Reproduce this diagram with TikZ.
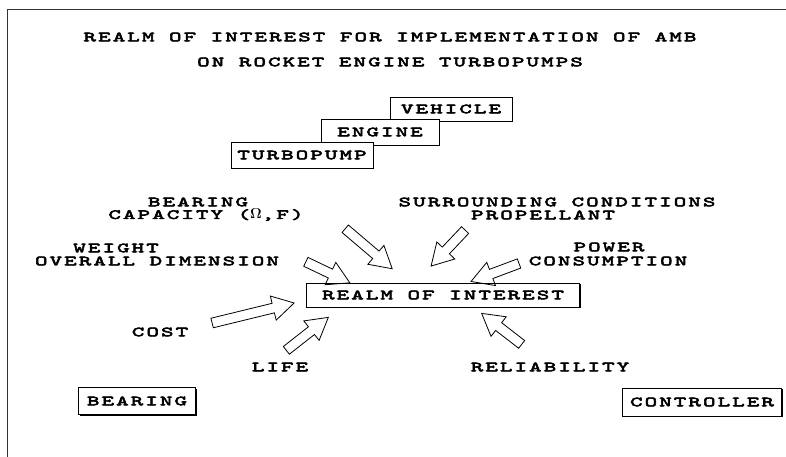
\documentclass[tikz,border=0pt]{standalone}
\usepackage[no-math]{fontspec}
\usepackage{tikz}
\usetikzlibrary{shapes.arrows}
\usetikzlibrary{shadows}
\usetikzlibrary{calc}
\newfontfamily\daisy[Extension=.otf,FakeStretch=1.7,LetterSpace=15,AutoFakeBold=4]{lmmono10-regular}
\tikzset{every node/.style={font=\daisy\bfseries\fontsize{14}{12}\selectfont, inner sep=1pt},
 labelbox/.style={draw, fill=white, line width=0.8pt, inner sep=0pt,
   general shadow={fill=black, shadow xshift=1.3pt, shadow yshift=-1.3pt}},
 bigarrow/.style={single arrow, draw, line width=0.8pt, inner sep=4.5pt,
   single arrow head extend=7.5pt, single arrow tip angle=60,
   sloped, allow upside down},
 }

\begin{document}
\begin{tikzpicture}[x=1pt,y=-1pt]
        \useasboundingbox (0,0) rectangle (786,457);
        \draw[line width=0.8pt, black!80] (786,9) -- (7,9) -- (7,457);
        \node (title1) at (390,37) {REALM OF INTEREST FOR IMPLEMENTATION OF AMB};
        \node (title2) at (390,62) {ON ROCKET ENGINE TURBOPUMPS};
        \node[labelbox, minimum width=122pt, minimum height=24pt] (vehicle) at (451,109) {VEHICLE};
        \node[labelbox, minimum width=118pt, minimum height=26pt] (engine) at (380,132) {ENGINE};
        \node[labelbox, minimum width=142pt, minimum height=26pt] (turbopump) at (302,155) {TURBOPUMP};
        \node (bearing1) at (198,202) {BEARING};
        \node (bearing2) at (206,215) {CAPACITY ($\mathbf{\Omega}$,F)};
        \node (surround1) at (557,202) {SURROUNDING CONDITIONS};
        \node (surround2) at (543,215) {PROPELLANT};
        \node (weight1) at (116,248) {WEIGHT};
        \node (weight2) at (157,261) {OVERALL DIMENSION};
        \node (power1) at (609,247) {POWER};
        \node (power2) at (608,261) {CONSUMPTION};
        \node[labelbox, minimum width=273pt, minimum height=24pt] (realm) at (443,295) {REALM OF INTEREST};
        \node (cost) at (160,332) {COST};
        \node (life) at (280,367) {LIFE};
        \node (reliab) at (550,367) {RELIABILITY};
        \node[labelbox, minimum width=117pt, minimum height=27pt] (bearing) at (137,401) {BEARING};
        \node[labelbox, minimum width=159pt, minimum height=28pt] (controller) at (702,402) {CONTROLLER};
        \foreach \tx/\ty/\px/\py[count=\i] in {342/226/389/266, 302/260/346/281, 468/227/434/263,
            523/262/475/280, 208/324/290/304, 283/353/325/320, 525/347/485/316} {
            \coordinate (tail\i) at (\tx,\ty);
            \coordinate (tip\i) at (\px,\py);
            \path let \p1 = ($(tip\i)-(tail\i)$), \n1 = {veclen(\x1,\y1)} in
                (tail\i) -- (tip\i) node[bigarrow, midway, minimum height=\n1] (arrow\i) {};
        }
    \end{tikzpicture}
\end{document}
